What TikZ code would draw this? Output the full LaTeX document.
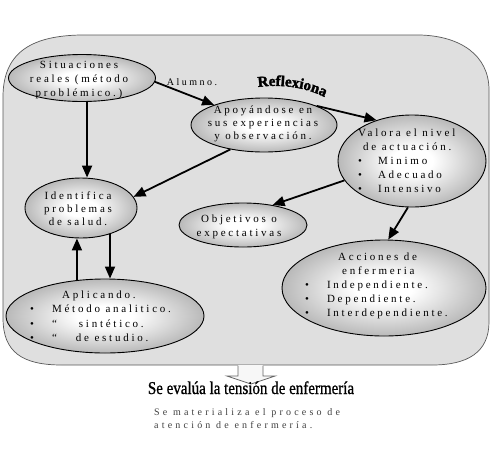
\documentclass[tikz,border=0pt]{standalone}
\usepackage{fontspec}
\usepackage{graphicx}
\setmainfont{Liberation Serif}
\newfontfamily\lsf[LetterSpace=25]{Liberation Serif}
\newfontfamily\lsg[LetterSpace=32]{Liberation Serif}
\newfontfamily\wafont[FakeBold=1]{Liberation Serif}
\newfontfamily\reffont[FakeBold=2]{Liberation Serif Bold}
\usetikzlibrary{arrows.meta,shapes.geometric,decorations.text,calc}
\pgfdeclareradialshading{ellsh}{\pgfpoint{0bp}{0bp}}{color(0bp)=(white); color(7bp)=(white); color(25bp)=(gray!55); color(50bp)=(gray!100)}
\begin{document}
\begin{tikzpicture}[x=1pt,y=-1pt,
  ell/.style={ellipse, draw=black, line width=0.9pt, shading=ellsh, inner sep=0pt},
  txt/.style={font=\lsf\fontsize{11}{14}\selectfont, align=center, inner sep=0pt},
  arr/.style={line width=1.8pt, -{Triangle[length=12pt,width=10pt]}},
]
\useasboundingbox (0,0) rectangle (500,474);
\fill[white] (0,0) rectangle (500,474);
% panel
\draw[fill=gray!25, draw=black!65, line width=0.7pt]
  (3,95) .. controls (4,50) and (35,36) .. (80,35) -- (420,35)
  .. controls (460,36) and (489,55) .. (489,90) -- (489,322)
  .. controls (489,352) and (468,365) .. (432,365) -- (62,365)
  .. controls (22,365) and (3,352) .. (3,318) -- cycle;
% ellipses
\node[ell, minimum width=147pt, minimum height=47pt] (S) at (82,78) {};
\node[ell, minimum width=146pt, minimum height=54pt] (A) at (264,125) {};
\node[ell, minimum width=148pt, minimum height=92pt] (V) at (412,161) {};
\node[ell, minimum width=128pt, minimum height=44pt] (O) at (243,225) {};
\node[ell, minimum width=112pt, minimum height=60pt] (I) at (81,208) {};
\node[ell, minimum width=198pt, minimum height=74pt] (P) at (105,316) {};
\node[ell, minimum width=204pt, minimum height=96pt] (C) at (384,288) {};
% texts
\node[txt] (tS) at (79,80) {Situaciones\\reales (método\\problémico.)};
\node[txt, font=\lsf\fontsize{11}{13}\selectfont] (tA) at (263,123.5) {Apoyándose en\\sus experiencias\\y observación.};
\node[txt, font=\lsf\fontsize{11}{13}\selectfont] (tI) at (78,209) {Identifica\\problemas\\de salud.};
\node[txt] (tO) at (239,226.5) {Objetivos o\\expectativas};
\node[txt, anchor=west] (tV) at (358,161.5) {\begin{tabular}{@{}l@{\hspace{16pt}}l@{}}
  \multicolumn{2}{@{}l@{}}{Valora el nivel}\\
  \multicolumn{2}{@{}l@{}}{\hspace{5pt}de actuación.}\\
  \textbullet & Minimo\\ \textbullet & Adecuado\\ \textbullet & Intensivo\end{tabular}};
\node[txt, font=\lsf\fontsize{11}{14.5}\selectfont, anchor=west] (tP) at (30,317) {\begin{tabular}{@{}l@{\hspace{18pt}}l@{}}
  \multicolumn{2}{@{}l@{}}{\hspace{32pt}Aplicando.}\\
  \textbullet & Método analitico.\\
  \textbullet & “\hspace{22pt}sintético.\\
  \textbullet & “\hspace{19pt}de estudio.\end{tabular}};
\node[txt, anchor=west] (tC) at (305,286) {\begin{tabular}{@{}l@{\hspace{18pt}}l@{}}
  \multicolumn{2}{@{}l@{}}{\hspace{33pt}Acciones de}\\
  \multicolumn{2}{@{}l@{}}{\hspace{37pt}enfermeria}\\
  \textbullet & Independiente.\\ \textbullet & Dependiente.\\ \textbullet & Interdependiente.\end{tabular}};
% connectors
\draw[arr] (S.-3) -- (A.158);
\draw[arr] (S.-78) -- (S.-78 |- I.north);
\draw[arr] (A.216) -- (I.12);
\draw[arr] (A.20) -- (V.131);
\draw[arr] (V.196) -- (O.34);
\draw[arr] (V.-95) -- (C.85);
\draw[arr] (P.128) -- (P.128 |- I.south);
\draw[arr] (I.-42) -- (I.-42 |- P.north);
% labels
\node[font=\lsf\fontsize{10}{12}\selectfont, inner sep=0pt] (lab) at (192,82) {Alumno.};
\path[decorate, decoration={text along path, text={|\reffont\fontsize{15}{15}\selectfont|Reflexiona}, text align=center}]
  (252,88) .. controls (280,83) and (308,87) .. (330,100);
% bottom block arrow
\fill[gray!6] (238,365) -- (238,376) -- (227,376) -- (251,384) -- (275,376) -- (263,376) -- (263,365) -- cycle;
\draw[black!60, line width=0.8pt] (238,365.5) -- (238,376) -- (227,376) -- (251,384) -- (275,376) -- (263,376) -- (263,365.5);
\node[font=\wafont\fontsize{15}{18}\selectfont, inner sep=0pt, anchor=base] (eval) at (251,394) {\scalebox{1}[1.2]{Se evalúa la tensión de enfermería}};
\node[font=\lsg\fontsize{10}{13}\selectfont, text=black!75, inner sep=0pt, anchor=base west] (sub1) at (154,415) {Se materializa el proceso de};
\node[font=\lsg\fontsize{10}{13}\selectfont, text=black!75, inner sep=0pt, anchor=base west] (sub2) at (154,428) {atención de enfermería.};
\end{tikzpicture}
\end{document}
